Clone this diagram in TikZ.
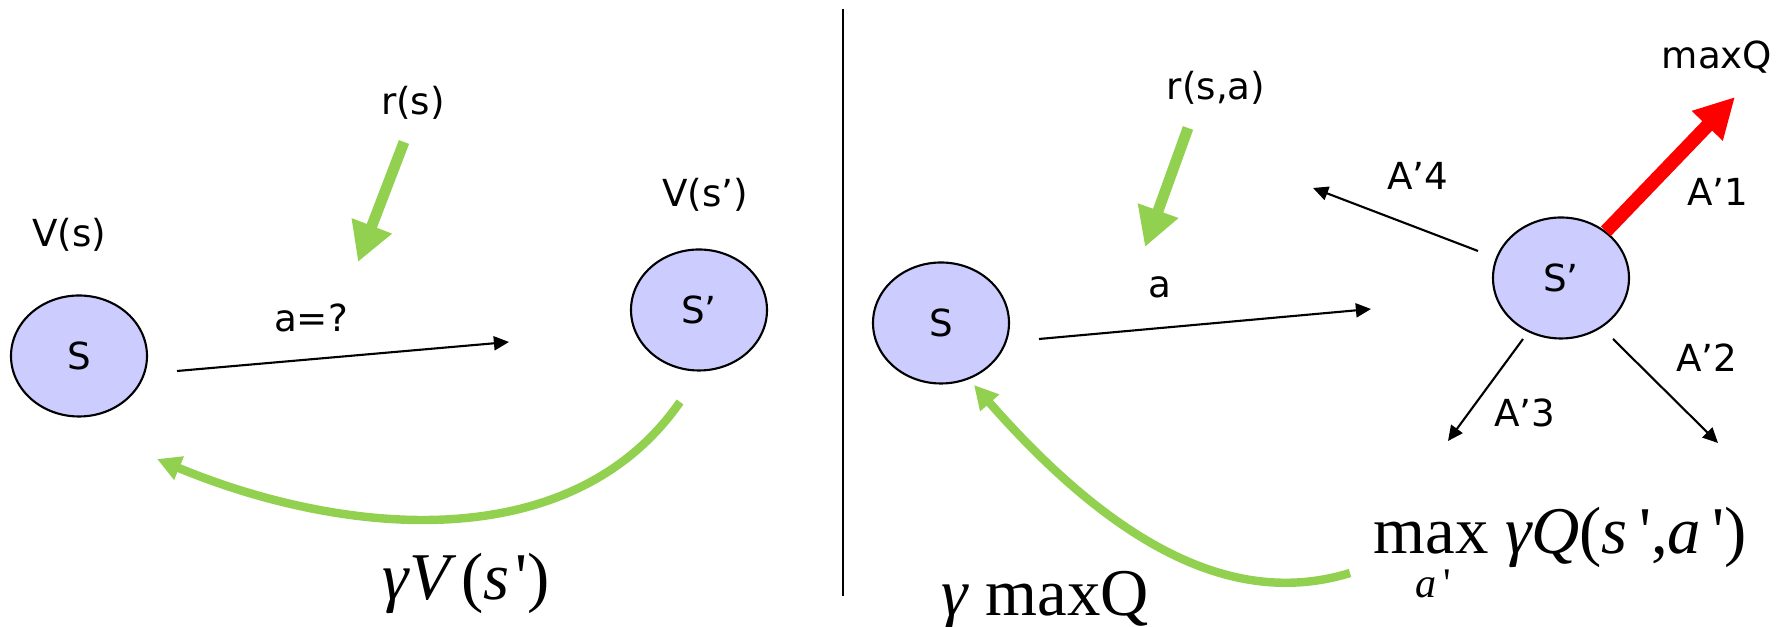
\documentclass[tikz,border=0pt]{standalone}
\usepackage{fontspec}
\setmainfont{DejaVu Sans}
\newfontfamily\timesf{Liberation Serif}
\usepackage{xcolor}
\usetikzlibrary{arrows.meta,shapes.geometric,positioning}
\definecolor{rewardgreen}{HTML}{92D050}
\definecolor{statefill}{HTML}{CCCCFF}

\begin{document}
\begin{tikzpicture}[
    state/.style={draw, ellipse, fill=statefill, line width=0.6pt, minimum width=1.36cm, minimum height=1.21cm, inner sep=0pt, font=\fontsize{10.6}{12}\selectfont},
    lbl/.style={inner sep=0pt, font=\fontsize{10.6}{12}\selectfont},
    formula/.style={inner sep=0pt, anchor=base, font=\timesf\fontsize{19}{22}\selectfont},
    act/.style={line width=0.6pt, -{Triangle[length=4.3pt,width=4pt]}},
    reward/.style={rewardgreen, line width=3.1pt, -{Triangle[length=11pt,width=11.5pt]}},
    backup/.style={rewardgreen, line width=2.4pt, -{Triangle[length=6.8pt,width=6.8pt]}},
  ]
  \useasboundingbox (0,0) rectangle (17.89,6.27);

  % left: state values
  \node[state] (s1) at (0.79,2.71) {S};
  \node[state] (s1n) at (6.99,3.17) {S’};
  \node[lbl] (vs) at (0.69,3.92) {V(s)};
  \node[lbl] (vsn) at (7.05,4.32) {V(s’)};
  \node[lbl] (rs) at (4.13,5.24) {r(s)};
  \node[lbl] (aq) at (3.11,3.09) {a=?};
  \node[formula] (gv) at (4.66,0.27) {\textit{γV}\kern1.5pt(\textit{s}\kern1.5pt')};

  \coordinate (a1from) at (1.77,2.56);
  \coordinate (a1to) at (5.09,2.85);
  \coordinate (r1from) at (4.04,4.85);
  \coordinate (r1to) at (3.58,3.65);
  \coordinate (b1from) at (6.80,2.25);
  \coordinate (b1to) at (1.57,1.68);
  \draw[act] (a1from) -- (a1to);
  \draw[reward] (r1from) -- (r1to);
  \draw[backup] (b1from) .. controls (5.70,0.67) and (3.40,0.92) .. (b1to);

  % divider
  \coordinate (divtop) at (8.43,6.18);
  \coordinate (divbot) at (8.43,0.31);
  \draw[line width=0.6pt] (divtop) -- (divbot);

  % right: Q values
  \node[state] (s2) at (9.41,3.04) {S};
  \node[state] (s2n) at (15.61,3.49) {S’};
  \node[lbl] (rsa) at (12.16,5.39) {r(s,a)};
  \node[lbl] (act) at (11.60,3.40) {a};
  \node[lbl] (maxq) at (17.17,5.70) {maxQ};
  \node[lbl] (an1) at (17.18,4.35) {A’1};
  \node[lbl] (an2) at (17.07,2.69) {A’2};
  \node[lbl] (an3) at (15.25,2.14) {A’3};
  \node[lbl] (an4) at (14.18,4.51) {A’4};
  \node[formula] (qmax) at (15.60,0.73) {max \textit{γQ}(\textit{s}\,',\textit{a}\,')};
  \node[formula, font=\timesf\fontsize{12}{14}\selectfont] (qsub) at (14.33,0.29) {\textit{a}\,'};
  \node[formula] (gmax) at (10.45,0.11) {\textit{γ} maxQ};

  \coordinate (a2from) at (10.39,2.88);
  \coordinate (a2to) at (13.71,3.18);
  \coordinate (r2from) at (11.88,4.99);
  \coordinate (r2to) at (11.45,3.80);
  \coordinate (best) at (17.35,5.30);
  \coordinate (o2from) at (16.13,2.88);
  \coordinate (o2to) at (17.18,1.84);
  \coordinate (o3from) at (15.23,2.88);
  \coordinate (o3to) at (14.48,1.86);
  \coordinate (o4from) at (14.78,3.76);
  \coordinate (o4to) at (13.13,4.39);
  \coordinate (b2from) at (13.50,0.54);
  \coordinate (b2to) at (9.74,2.42);
  \draw[act] (a2from) -- (a2to);
  \draw[reward] (r2from) -- (r2to);
  \draw[red, line width=3.9pt, -{Triangle[length=11.4pt,width=11.4pt]}] (s2n) -- (best);
  \draw[act] (o2from) -- (o2to);
  \draw[act] (o3from) -- (o3to);
  \draw[act] (o4from) -- (o4to);
  \draw[backup] (b2from) .. controls (12.30,0.17) and (11.10,0.87) .. (b2to);
\end{tikzpicture}
\end{document}
